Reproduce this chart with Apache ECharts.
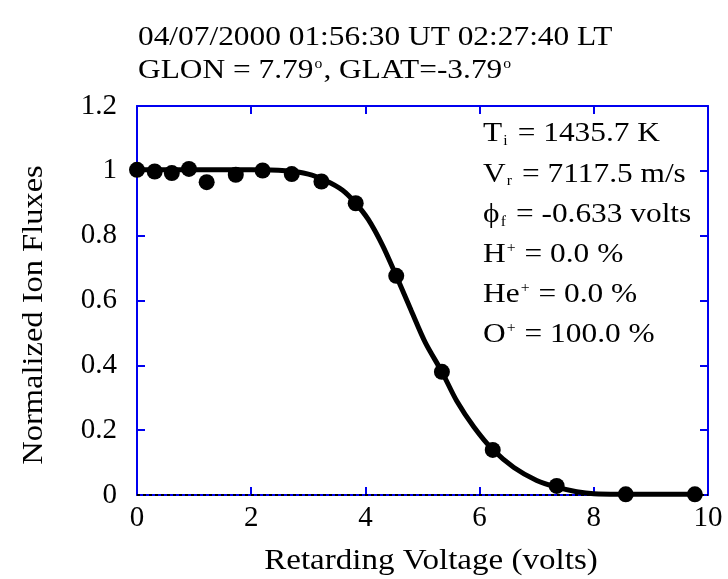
<!DOCTYPE html>
<html>
<head>
<meta charset="utf-8">
<script src="https://cdn.jsdelivr.net/npm/echarts@6/dist/echarts.min.js"></script>
<style>
  html, body { margin: 0; padding: 0; background: #fff; }
  #chart { width: 728px; height: 579px; }
</style>
</head>
<body>
<div id="chart"></div>
<script>
// measured points (retarding voltage, normalized flux)
const measVolts = [0.0, 0.31, 0.61, 0.91, 1.22, 1.73, 2.2, 2.71, 3.23, 3.83, 4.54, 5.34, 6.23, 7.35, 8.56, 9.77];
const measFlux = [1.003, 0.998, 0.993, 1.006, 0.965, 0.988, 1.001, 0.99, 0.967, 0.9, 0.676, 0.38, 0.139, 0.028, 0.002, 0.002];

// fitted curve
const fitVolts = [0.0, 1.0, 2.0, 2.6, 3.0, 3.3, 3.6, 3.83, 4.05, 4.3, 4.54, 4.8, 5.05, 5.34, 5.6, 5.9, 6.23, 6.6, 7.0, 7.35, 7.7, 8.0, 9.0, 9.85];
const fitFlux = [1.003, 1.003, 1.003, 1.0, 0.99, 0.97, 0.94, 0.9, 0.85, 0.77, 0.676, 0.57, 0.47, 0.38, 0.29, 0.21, 0.14, 0.085, 0.045, 0.024, 0.01, 0.004, 0.002, 0.002];

const xName = 'Retarding Voltage (volts)';
const yName = 'Normalized Ion Fluxes';
const titleLines = ['04/07/2000 01:56:30 UT 02:27:40 LT', 'GLON = 7.79{sup|o}, GLAT=-3.79{sup|o}'];
const paramLines = [
  'T{sub|i} = 1435.7 K',
  'V{sub|r} = 7117.5 m/s',
  '\u03d5{sub|f} = -0.633 volts',
  'H{sup|+} = 0.0 %',
  'He{sup|+} = 0.0 %',
  'O{sup|+} = 100.0 %'
];

const font = '"Liberation Serif", "DejaVu Serif", serif';
const blue = '#0000f0';
const rich = {
  sub: { fontFamily: font, fontSize: 14, color: '#000', padding: [15, 2, 0, 1] },
  sup: { fontFamily: font, fontSize: 14, color: '#000', padding: [0, 1, 13, 1] }
};

const chart = echarts.init(document.getElementById('chart'));

const sharedAxis = (pos, showLabel) => ({
  position: pos,
  axisLine: { show: true, onZero: false, lineStyle: { color: blue, width: 2 } },
  axisTick: { show: true, inside: true, length: 8, lineStyle: { color: blue, width: 2 } },
  axisLabel: { show: showLabel, color: '#000', fontFamily: font, fontSize: 29 },
  splitLine: { show: false }
});

const textEl = (t, left, top) => ({
  type: 'text', left: left, top: top, scaleX: 1.12, originX: 0,
  style: { text: t, fontFamily: font, fontSize: 28, fill: '#000', rich: rich }
});

// axis titles drawn as graphic text so they can be stretched a little
const nameEl = (t, x, y, rot, sx) => ({
  type: 'text', x: x, y: y, rotation: rot, scaleX: sx,
  style: { text: t, fontFamily: font, fontSize: 29, fill: '#000', align: 'center', verticalAlign: 'middle' }
});

chart.setOption({
  animation: false,
  backgroundColor: '#fff',
  grid: { left: 137, right: 20, top: 106, bottom: 84 },
  xAxis: [
    Object.assign(sharedAxis('bottom', true), {
      type: 'value', min: 0, max: 10, interval: 2,
      axisLabel: { show: true, color: '#000', fontFamily: font, fontSize: 29, margin: 9 }
    }),
    Object.assign(sharedAxis('top', false), { type: 'value', min: 0, max: 10, interval: 2 })
  ],
  yAxis: [
    Object.assign(sharedAxis('left', true), {
      type: 'value', min: 0, max: 1.2, interval: 0.2,
      axisLabel: { show: true, color: '#000', fontFamily: font, fontSize: 29, margin: 20,
        formatter: v => String(Math.round(v * 10) / 10) }
    }),
    Object.assign(sharedAxis('right', false), { type: 'value', min: 0, max: 1.2, interval: 0.2 })
  ],
  series: [
    {
      type: 'line',
      data: fitVolts.map((v, i) => [v, fitFlux[i]]),
      smooth: 0.3,
      showSymbol: false,
      lineStyle: { color: '#000', width: 5 },
      z: 3,
      markLine: {
        silent: true, symbol: 'none', label: { show: false },
        lineStyle: { color: '#000', type: [3, 3], width: 2 },
        data: [{ yAxis: 0 }]
      }
    },
    {
      type: 'scatter',
      data: measVolts.map((v, i) => [v, measFlux[i]]),
      symbol: 'circle',
      symbolSize: 16,
      itemStyle: { color: '#000', opacity: 1 },
      z: 4
    }
  ],
  graphic: [
    textEl(titleLines[0], 138, 24),
    textEl(titleLines[1], 138, 57),
    nameEl(xName, 431, 561, 0, 1.14),
    nameEl(yName, 34, 315, Math.PI / 2, 1.12)
  ].concat(paramLines.map((t, i) => textEl(t, 483, 120 + i * 40.2)))
});
</script>
</body>
</html>
